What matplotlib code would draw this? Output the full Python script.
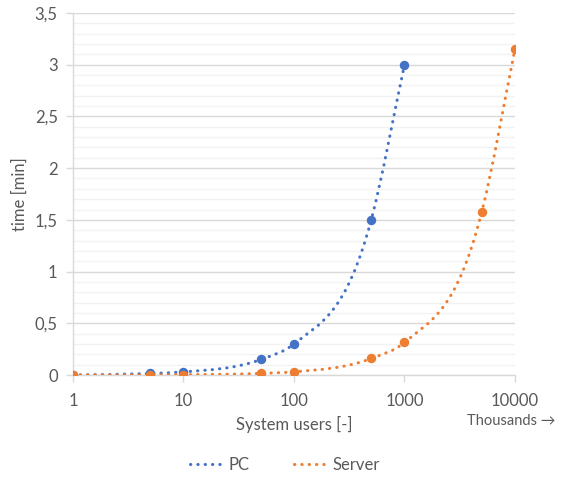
import numpy as np
import matplotlib
matplotlib.use("Agg")
import matplotlib.pyplot as plt
from matplotlib.path import Path
from matplotlib.patches import PathPatch
from matplotlib.lines import Line2D
from matplotlib.ticker import FuncFormatter, MultipleLocator

plt.rcParams['font.family'] = ['Lato', 'DejaVu Sans']

# data
pc_users = [1, 5, 10, 50, 100, 500, 1000]
pc_time = [0.0, 0.015, 0.03, 0.15, 0.3, 1.5, 3.0]
srv_users = [1, 5, 10, 50, 100, 500, 1000, 5000, 10000]
srv_time = [0.0, 0.0016, 0.003, 0.016, 0.031, 0.16, 0.315, 1.575, 3.15]
x_ticks = [1, 10, 100, 1000, 10000]

BLUE = '#4472C4'
ORANGE = '#ED7D31'
TXT = '#595959'


def smooth_path(xs, ys):
    # smoothed connecting line: cubic bezier in (log x, y) space
    lx = np.log10(xs)
    y = np.asarray(ys, float)
    n = len(lx)
    h = np.diff(lx)
    d = np.diff(y) / h
    m = np.empty(n)
    m[0] = d[0]
    m[-1] = d[-1]
    for i in range(1, n - 1):
        m[i] = (h[i - 1] * d[i] + h[i] * d[i - 1]) / (h[i - 1] + h[i])
    verts = [(xs[0], y[0])]
    codes = [Path.MOVETO]
    for i in range(n - 1):
        c1 = (lx[i] + h[i] / 3, y[i] + m[i] * h[i] / 3)
        c2 = (lx[i + 1] - h[i] / 3, y[i + 1] - m[i + 1] * h[i] / 3)
        verts += [(10 ** c1[0], c1[1]), (10 ** c2[0], c2[1]), (xs[i + 1], y[i + 1])]
        codes += [Path.CURVE4] * 3
    return Path(verts, codes)


fig = plt.figure(figsize=(5.64, 4.79), dpi=100)
ax = fig.add_axes([0.1294, 0.2171, 0.7837, 0.7558])

dots = (0, (0.1, 2.3))
for xs, ys, col in [(pc_users, pc_time, BLUE), (srv_users, srv_time, ORANGE)]:
    patch = PathPatch(smooth_path(xs, ys), fill=False, edgecolor=col, lw=2.2,
                      linestyle=dots, capstyle='round', zorder=3)
    ax.add_patch(patch)
    ax.plot(xs, ys, 'o', color=col, ms=5.8, zorder=4)

ax.set_xscale('log')
ax.set_xlim(1, 10000)
ax.set_ylim(0, 3.5)
ax.set_xticks(x_ticks)
ax.set_xticklabels([str(v) for v in x_ticks])
ax.xaxis.set_minor_locator(matplotlib.ticker.NullLocator())
ax.yaxis.set_major_locator(MultipleLocator(0.5))
ax.yaxis.set_minor_locator(MultipleLocator(0.1))
ax.yaxis.set_major_formatter(FuncFormatter(lambda v, p: f"{v:g}".replace('.', ',')))

ax.grid(True, which='major', axis='y', color='#D9D9D9', lw=1)
ax.grid(True, which='minor', axis='y', color='#F2F2F2', lw=1)
ax.set_axisbelow(True)

for s in ['top', 'right']:
    ax.spines[s].set_visible(False)
for s in ['left', 'bottom']:
    ax.spines[s].set_color('#D9D9D9')
    ax.spines[s].set_linewidth(1)

ax.tick_params(axis='both', which='major', colors='#D9D9D9', labelcolor=TXT,
               labelsize=12, length=5, width=1)
ax.tick_params(axis='y', which='minor', length=0)
ax.tick_params(axis='x', pad=8)
ax.tick_params(axis='y', pad=6)

ax.set_xlabel('System users [-]', color=TXT, fontsize=12, labelpad=5)
ax.set_ylabel('time [min]', color=TXT, fontsize=12, labelpad=5)
fig.text(0.828, 0.121, 'Thousands \u2192', color=TXT, fontsize=10.5, va='center',
         family=['Lato', 'DejaVu Sans'])

handles = [Line2D([], [], color=BLUE, lw=2.2, linestyle=dots, dash_capstyle='round'),
           Line2D([], [], color=ORANGE, lw=2.2, linestyle=dots, dash_capstyle='round')]
fig.legend(handles, ['PC', 'Server'], loc='center', bbox_to_anchor=(0.505, 0.029),
           ncol=2, frameon=False, fontsize=12, labelcolor=TXT,
           handlelength=1.8, handletextpad=0.5, columnspacing=2.7)

fig.savefig('out.png', dpi=100)
